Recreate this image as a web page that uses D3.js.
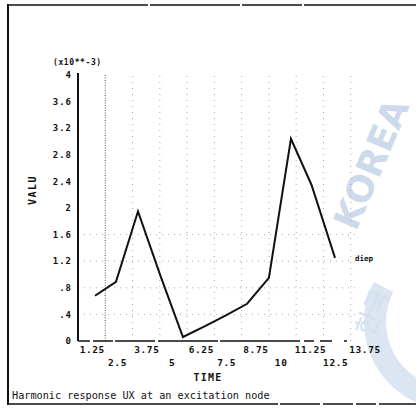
<!DOCTYPE html>
<html>
<head>
<meta charset="utf-8">
<script src="https://cdn.jsdelivr.net/npm/d3@7/dist/d3.min.js"></script>
<style>
  html, body { margin: 0; padding: 0; background: #fff; }
  svg { display: block; }
  .lbl { font-family: "DejaVu Sans Mono", monospace; font-weight: bold; fill: #111; }
</style>
</head>
<body>
<svg id="chart" width="416" height="410"></svg>
<script>
// Harmonic response data (time, value ×10^-3)
const times  = [0.78, 1.74, 2.75, 3.78, 4.81, 5.8, 6.8, 7.75, 8.75, 9.76, 10.7, 11.78];
const values = [0.68, 0.89, 1.95, 0.98, 0.06, 0.22, 0.39, 0.56, 0.95, 3.04, 2.35, 1.25];

// Axis tick labels
const yTicks = [0, 0.4, 0.8, 1.2, 1.6, 2, 2.4, 2.8, 3.2, 3.6, 4];
const yTickText = ["0", ".4", ".8", "1.2", "1.6", "2", "2.4", "2.8", "3.2", "3.6", "4"];
const xTicksUpper = [1.25, 3.75, 6.25, 8.75, 11.25, 13.75];
const xTicksLower = [2.5, 5, 7.5, 10, 12.5];
const xGrid = [1.25, 2.5, 3.75, 5, 6.25, 7.5, 8.75, 10, 11.25, 12.5];
const yGrid = [0.4, 0.8, 1.2, 1.6];

const svg = d3.select("#chart");

const x = d3.scaleLinear().domain([0, 13.75]).range([78, 378]);
const y = d3.scaleLinear().domain([0, 4]).range([341, 75]);

// Faint background emblem
const wm = svg.append("g").attr("stroke", "none");
wm.append("path")
  .attr("d", d3.arc()({innerRadius: 66, outerRadius: 88, startAngle: -1.1, endAngle: -3.05}))
  .attr("transform", "translate(452,322)")
  .attr("fill", "#dbe6f2");
wm.append("text")
  .attr("transform", "translate(356,232) rotate(-67)")
  .attr("font-family", "DejaVu Sans")
  .attr("font-weight", "bold")
  .attr("font-size", 36)
  .attr("fill", "#ccdaeb")
  .text("KOREA");
wm.append("text")
  .attr("transform", "translate(372,338) rotate(-68)")
  .attr("font-family", "Noto Sans CJK KR")
  .attr("font-size", 26)
  .attr("fill", "#d3e0ef")
  .text("한국");

// Outer frame
const frame = svg.append("g").attr("stroke", "#111").attr("fill", "none");
frame.append("line").attr("x1", 8).attr("x2", 8).attr("y1", 4).attr("y2", 405).attr("stroke-width", 2);
frame.append("line").attr("x1", 8).attr("x2", 416).attr("y1", 5).attr("y2", 5)
  .attr("stroke-width", 1.4).attr("stroke-dasharray", "140,2,90,2,60,2,200");
frame.append("line").attr("x1", 8).attr("x2", 416).attr("y1", 404).attr("y2", 404)
  .attr("stroke-width", 1.4).attr("stroke-dasharray", "270,2,40,3,30,3,20,3,60");

// Dotted grid
const grid = svg.append("g").attr("fill", "none");
grid.selectAll("line.vg").data(xGrid).join("line")
  .attr("class", "vg")
  .attr("x1", d => x(d)).attr("x2", d => x(d))
  .attr("y1", y(0)).attr("y2", y(4))
  .attr("stroke", (d, i) => i === 0 ? "#555" : "#aaa")
  .attr("stroke-width", 1)
  .attr("stroke-dasharray", (d, i) => i === 0 ? "1,1.5" : "1,5");
grid.selectAll("line.hg").data(yGrid).join("line")
  .attr("class", "hg")
  .attr("x1", x(0)).attr("x2", x(12.8))
  .attr("y1", d => y(d)).attr("y2", d => y(d))
  .attr("stroke", "#aaa")
  .attr("stroke-width", 1)
  .attr("stroke-dasharray", "1,5");

// Axes lines
svg.append("line").attr("x1", x(0)).attr("x2", x(0)).attr("y1", y(4) - 2).attr("y2", y(0))
  .attr("stroke", "#111").attr("stroke-width", 2);
svg.append("line").attr("x1", x(0)).attr("x2", x(12.75)).attr("y1", y(0)).attr("y2", y(0))
  .attr("stroke", "#111").attr("stroke-width", 1.5).attr("stroke-dasharray", "12,3,20,2,40,3,60,2,80,4,10,6,12");

// Y tick labels
svg.append("g").selectAll("text").data(yTicks).join("text")
  .attr("class", "lbl")
  .attr("x", 72)
  .attr("y", d => y(d))
  .attr("dy", "0.35em")
  .attr("text-anchor", "end")
  .attr("font-size", 9)
  .attr("letter-spacing", 1)
  .text((d, i) => yTickText[i]);

// X tick labels (two staggered rows)
svg.append("g").selectAll("text").data(xTicksUpper).join("text")
  .attr("class", "lbl")
  .attr("x", d => x(d) - 13)
  .attr("y", 353)
  .attr("text-anchor", "middle")
  .attr("font-size", 9.5)
  .attr("letter-spacing", 0.6)
  .text(d => String(d));
svg.append("g").selectAll("text").data(xTicksLower).join("text")
  .attr("class", "lbl")
  .attr("x", d => x(d) - 15)
  .attr("y", 366)
  .attr("text-anchor", "middle")
  .attr("font-size", 9.5)
  .attr("letter-spacing", 0.6)
  .text(d => String(d));

// Scale factor note
svg.append("text").attr("class", "lbl")
  .attr("x", 53).attr("y", 65)
  .attr("font-size", 8)
  .attr("letter-spacing", 0.6)
  .text("(x10**-3)");

// Axis titles
svg.append("text").attr("class", "lbl")
  .attr("transform", "translate(36,190) rotate(-90)")
  .attr("text-anchor", "middle")
  .attr("font-size", 10)
  .attr("letter-spacing", 1.5)
  .text("VALU");
svg.append("text").attr("class", "lbl")
  .attr("x", 208).attr("y", 381)
  .attr("text-anchor", "middle")
  .attr("font-size", 10)
  .attr("letter-spacing", 1.2)
  .text("TIME");

// Response curve
const line = d3.line().x(d => x(d[0])).y(d => y(d[1]));
svg.append("path")
  .datum(d3.zip(times, values))
  .attr("d", line)
  .attr("fill", "none")
  .attr("stroke", "#111")
  .attr("stroke-width", 2)
  .attr("stroke-linejoin", "miter");

// Series label at the curve end
svg.append("text").attr("class", "lbl")
  .attr("x", 355).attr("y", y(values[values.length - 1]))
  .attr("dy", "0.35em")
  .attr("font-size", 7.5)
  .text("diep");

// Caption
svg.append("text")
  .attr("x", 12).attr("y", 399)
  .attr("font-family", "DejaVu Sans Mono, monospace")
  .attr("font-size", 10.2)
  .attr("fill", "#111")
  .text("Harmonic response UX at an excitation node");
</script>
</body>
</html>
